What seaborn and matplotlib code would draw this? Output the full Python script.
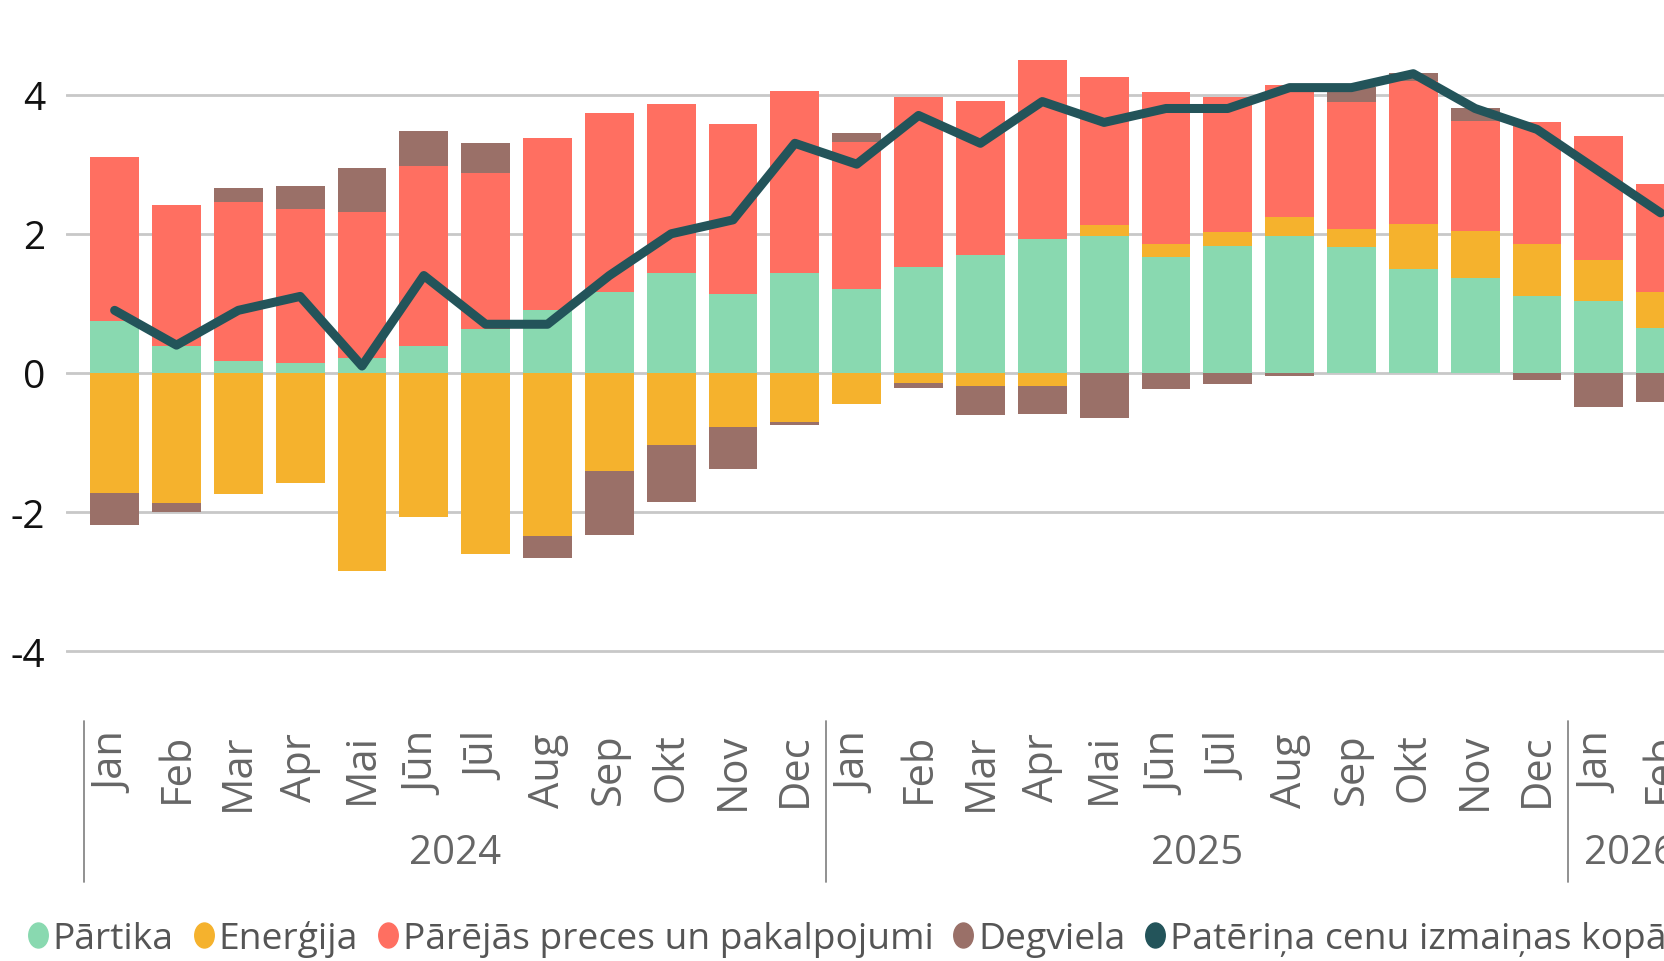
import numpy as np
import pandas as pd
import seaborn as sns
import matplotlib.pyplot as plt
from matplotlib.lines import Line2D
from matplotlib.path import Path
from matplotlib import transforms

months = ['Jan', 'Feb', 'Mar', 'Apr', 'Mai', 'Jūn', 'Jūl', 'Aug', 'Sep', 'Okt', 'Nov', 'Dec']
month_labels = months + months + months[:2]
years = ['2024', '2025', '2026']
year_sizes = [12, 12, 2]

# contributions, percentage points
partika = [0.75, 0.39, 0.17, 0.15, 0.21, 0.39, 0.63, 0.91, 1.17, 1.43, 1.13, 1.43,
           1.21, 1.52, 1.69, 1.93, 1.97, 1.66, 1.82, 1.97, 1.81, 1.49, 1.37, 1.11,
           1.04, 0.64]
energija = [-1.73, -1.87, -1.74, -1.58, -2.85, -2.07, -2.60, -2.34, -1.41, -1.04, -0.78, -0.70,
            -0.45, -0.15, -0.19, -0.18, 0.16, 0.20, 0.21, 0.27, 0.26, 0.65, 0.67, 0.75,
            0.59, 0.53]
parejas = [2.35, 2.02, 2.28, 2.21, 2.11, 2.58, 2.25, 2.46, 2.57, 2.43, 2.45, 2.62,
           2.11, 2.45, 2.22, 2.57, 2.12, 2.18, 1.94, 1.90, 1.82, 2.06, 1.58, 1.75,
           1.78, 1.54]
degviela = [-0.46, -0.13, 0.21, 0.33, 0.63, 0.50, 0.43, -0.32, -0.92, -0.82, -0.60, -0.05,
            0.13, -0.07, -0.41, -0.41, -0.64, -0.23, -0.16, -0.05, 0.22, 0.11, 0.19, -0.10,
            -0.49, -0.41]
kopa = [0.9, 0.4, 0.9, 1.1, 0.1, 1.4, 0.7, 0.7, 1.4, 2.0, 2.2, 3.3,
        3.0, 3.7, 3.3, 3.9, 3.6, 3.8, 3.8, 4.1, 4.1, 4.3, 3.8, 3.5,
        2.9, 2.3]

names = ['Pārtika', 'Enerģija', 'Pārējās preces un pakalpojumi', 'Degviela',
         'Patēriņa cenu izmaiņas kopā']
colors = ['#89D9B0', '#F5B22D', '#FF6F61', '#9A7068', '#23545A']

df = pd.DataFrame({'idx': np.arange(len(kopa)), 'g': partika, 'e': energija,
                   'r': parejas, 'd': degviela, 'kopa': kopa})
# stacked tops: positives upward, negatives downward
df['p1'] = df['g']
df['p2'] = df['p1'] + df['e'].clip(lower=0)
df['p3'] = df['p2'] + df['r']
df['p4'] = df['p3'] + df['d'].clip(lower=0)
df['n1'] = df['e'].clip(upper=0)
df['n2'] = df['n1'] + df['d'].clip(upper=0)

sns.set_theme(style='white')
plt.rcParams['font.family'] = ['Open Sans', 'DejaVu Sans']

fig = plt.figure(figsize=(16.65, 9.62), dpi=100)
ax = fig.add_axes([0.0395, 0.2495, 0.9605, 0.7235])

layers = [('p4', colors[3]), ('p3', colors[2]), ('p2', colors[1]), ('p1', colors[0]),
          ('n2', colors[3]), ('n1', colors[1])]
for col, c in layers:
    sns.barplot(data=df, x='idx', y=col, color=c, saturation=1, width=0.79,
                linewidth=0, ax=ax, zorder=2)

ax.plot(df['idx'], df['kopa'], color=colors[4], lw=6.5, solid_joinstyle='round',
        solid_capstyle='round', zorder=3)

ax.set_ylim(-5, 5)
ax.set_xlim(-0.79, 25.07)
ax.set_yticks([-4, -2, 0, 2, 4])
ax.set_yticklabels(['-4', '-2', '0', '2', '4'])
ax.yaxis.grid(True, color='#C8C8C8', lw=2)
ax.set_axisbelow(True)
for s in ax.spines.values():
    s.set_visible(False)
ax.set_xlabel('')
ax.set_ylabel('')
ax.set_xticks(range(len(month_labels)))
ax.set_xticklabels(month_labels, rotation=90, va='top', ha='center')
ax.tick_params(axis='x', length=0, pad=8, labelsize=30, labelcolor='#666666')
ax.tick_params(axis='y', length=0, pad=15, labelsize=28, labelcolor='#111111')

trans = transforms.blended_transform_factory(ax.transData, ax.transAxes)
start = 0
for yr, n in zip(years, year_sizes):
    ax.plot([start - 0.5, start - 0.5], [0, -0.231], transform=trans, color='#888888',
            lw=1.3, clip_on=False)
    ax.text(start + (n - 1) / 2, -0.19, yr, transform=trans, ha='center', va='center',
            fontsize=29, color='#666666')
    start += n

circle = Path.unit_circle()
ellipse = Path(circle.vertices * np.array([0.78, 1.0]), circle.codes)
handles = [Line2D([], [], marker=ellipse, ls='none', color=c, markersize=18) for c in colors]
fig.legend(handles, names, loc='center left', bbox_to_anchor=(0.006, 0.023), ncol=5,
           frameon=False, handletextpad=0.05, columnspacing=0.45, handlelength=0.7,
           fontsize=26.8, labelcolor='#555555', borderaxespad=0)

fig.savefig('out.png', dpi=100)
